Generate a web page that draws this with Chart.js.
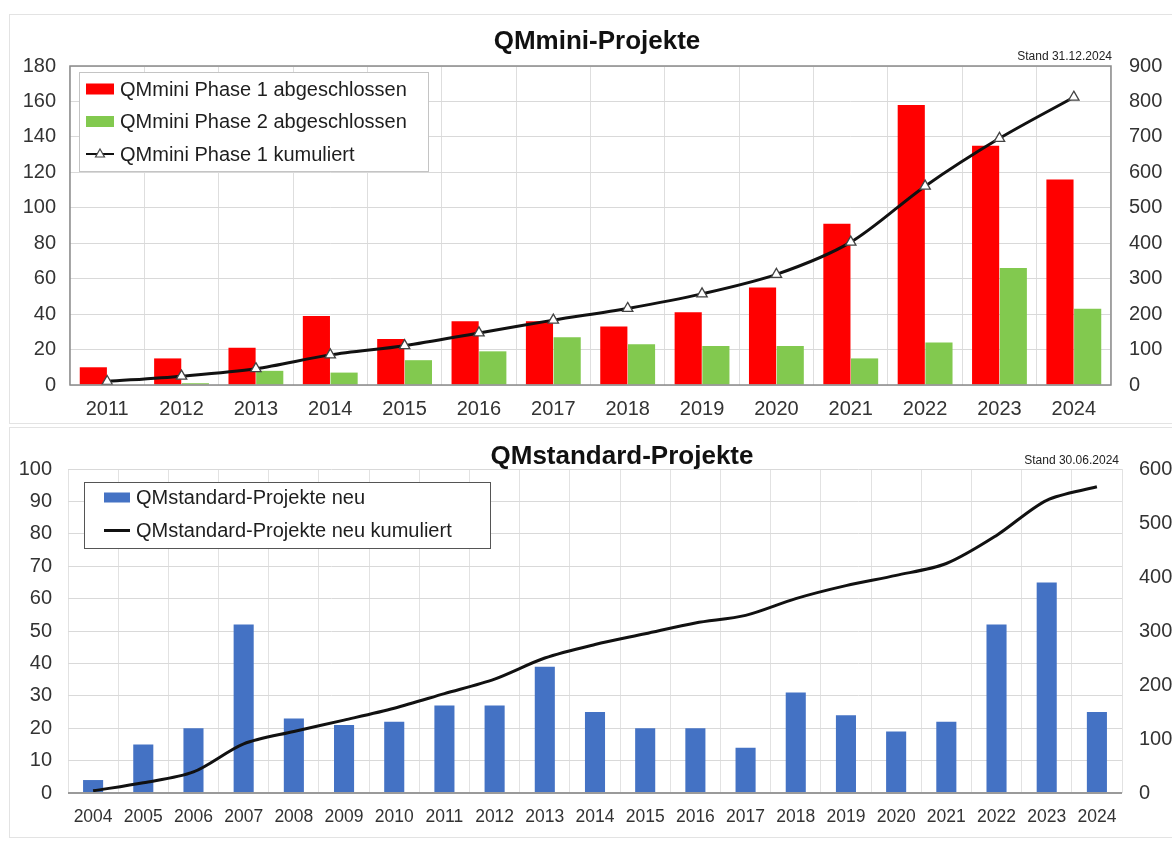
<!DOCTYPE html>
<html><head><meta charset="utf-8">
<script src="https://cdn.jsdelivr.net/npm/chart.js@4/dist/chart.umd.min.js"></script>
<style>
html,body{margin:0;padding:0;background:#fff;width:1172px;height:841px;overflow:hidden;position:relative;}
.panel{position:absolute;border:1px solid #e3e3e3;box-sizing:border-box;}
#wrapTop{position:absolute;left:0;top:0;width:1172px;height:425px;}
#wrapBottom{position:absolute;left:0;top:425px;width:1200px;height:416px;}
canvas{display:block;}
</style></head><body>
<div class="panel" style="left:9px;top:14px;width:1175px;height:410px"></div>
<div class="panel" style="left:9px;top:427px;width:1175px;height:411px"></div>
<div id="wrapTop"><canvas id="cTop" width="1172" height="425"></canvas></div>
<div id="wrapBottom"><canvas id="cBottom" width="1200" height="416"></canvas></div>
<script>
// ---------- data ----------
const miniYears = ['2011','2012','2013','2014','2015','2016','2017','2018','2019','2020','2021','2022','2023','2024'];
const miniPhase1 = [10,15,21,39,26,36,36,33,41,55,91,158,135,116];
const miniPhase2 = [0,1,8,7,14,19,27,23,22,22,15,24,66,43];
const miniPhase1Cumulative = [10,25,46,85,111,147,183,216,257,312,403,561,696,812];

const stdYears = ['2004','2005','2006','2007','2008','2009','2010','2011','2012','2013','2014','2015','2016','2017','2018','2019','2020','2021','2022','2023','2024'];
const stdNew = [4,15,20,52,23,21,22,27,27,39,25,20,20,14,31,24,19,22,52,65,25];
const stdNewCumulative = [4,19,39,91,114,135,157,184,211,250,275,295,315,329,360,384,403,425,477,542,567];

const miniLeftTicks = {min:0, max:180, step:20};
const miniRightTicks = {min:0, max:900, step:100};
const stdLeftTicks = {min:0, max:100, step:10};
const stdRightTicks = {min:0, max:600, step:100};

// ---------- rendering ----------
const FONT = "'Liberation Sans', Arial, Helvetica, sans-serif";
Chart.defaults.font.family = FONT;
Chart.defaults.color = '#333';

const decor = {
  id: 'decor',
  afterDraw(chart, args, o) {
    const ctx = chart.ctx, a = chart.chartArea;
    ctx.save();
    if (o.frame) {
      ctx.strokeStyle = '#8a8a8a'; ctx.lineWidth = 1.5;
      ctx.strokeRect(a.left, a.top, a.right - a.left, a.bottom - a.top);
    } else {
      ctx.strokeStyle = '#9a9a9a'; ctx.lineWidth = 2;
      ctx.beginPath(); ctx.moveTo(a.left, a.bottom); ctx.lineTo(a.right, a.bottom); ctx.stroke();
    }
    // title
    ctx.fillStyle = '#111';
    ctx.font = 'bold ' + o.titleSize + 'px ' + FONT;
    ctx.textAlign = 'center'; ctx.textBaseline = 'middle';
    ctx.fillText(o.title, o.titleX, o.titleY);
    ctx.font = '12px ' + FONT;
    ctx.fillStyle = '#222';
    ctx.textAlign = 'right';
    ctx.fillText(o.stand, a.right + o.standDx, o.standY);
    // legend box
    const L = o.legend;
    const x0 = a.left + L.dx, y0 = a.top + L.dy;
    ctx.fillStyle = '#fff';
    ctx.fillRect(x0, y0, L.w, L.h);
    ctx.strokeStyle = L.border; ctx.lineWidth = 1;
    ctx.strokeRect(x0 + 0.5, y0 + 0.5, L.w, L.h);
    ctx.font = L.fontSize + 'px ' + FONT;
    ctx.textAlign = 'left'; ctx.textBaseline = 'middle';
    chart.data.datasets.forEach((ds, i) => {
      const cy = y0 + L.firstRow + i * L.rowGap;
      const sx = x0 + L.swatchX;
      if (ds.type === 'line') {
        ctx.strokeStyle = ds.borderColor; ctx.lineWidth = L.lineW;
        ctx.beginPath(); ctx.moveTo(sx, cy); ctx.lineTo(sx + L.swatchW, cy); ctx.stroke();
        if (ds.pointStyle === 'triangle') {
          const cx = sx + L.swatchW / 2, r = 5;
          ctx.fillStyle = '#fff'; ctx.strokeStyle = '#444'; ctx.lineWidth = 1.2;
          ctx.beginPath();
          ctx.moveTo(cx, cy - r); ctx.lineTo(cx + r * 0.9, cy + r * 0.6); ctx.lineTo(cx - r * 0.9, cy + r * 0.6); ctx.closePath();
          ctx.fill(); ctx.stroke();
        }
      } else {
        ctx.fillStyle = ds.backgroundColor;
        ctx.fillRect(sx, cy - L.swatchH / 2, L.swatchW, L.swatchH);
      }
      ctx.fillStyle = '#1e1e1e';
      ctx.fillText(ds.label, sx + L.swatchW + L.textGap, cy + 1);
    });
    ctx.restore();
  }
};

function axisY(t, pos, size, pad, width, gridOn) {
  return {
    position: pos, min: t.min, max: t.max,
    ticks: {stepSize: t.step, font: {size: size}, color: '#333', padding: pad},
    grid: {display: gridOn, color: '#d9d9d9', drawTicks: false},
    border: {display: false},
    afterFit(s) { s.width = width; }
  };
}

new Chart(document.getElementById('cTop'), {
  data: {
    labels: miniYears,
    datasets: [
      {type: 'bar', label: 'QMmini Phase 1 abgeschlossen', data: miniPhase1, backgroundColor: '#ff0000',
       yAxisID: 'y', order: 2, categoryPercentage: 0.745, barPercentage: 0.98},
      {type: 'bar', label: 'QMmini Phase 2 abgeschlossen', data: miniPhase2, backgroundColor: '#82c94f',
       yAxisID: 'y', order: 2, categoryPercentage: 0.745, barPercentage: 0.98},
      {type: 'line', label: 'QMmini Phase 1 kumuliert', data: miniPhase1Cumulative, yAxisID: 'y2', order: 0,
       borderColor: '#111', borderWidth: 3, tension: 0.3, pointStyle: 'triangle', pointRadius: 6,
       pointBackgroundColor: '#fff', pointBorderColor: '#444', pointBorderWidth: 1.3}
    ]
  },
  options: {
    responsive: false, animation: false, devicePixelRatio: 1,
    layout: {padding: {top: 66, left: 0, right: 0, bottom: 0}},
    plugins: {
      legend: {display: false}, tooltip: {enabled: false},
      decor: {frame: true, title: 'QMmini-Projekte', titleSize: 26, titleX: 597, titleY: 42,
              stand: 'Stand 31.12.2024', standDx: 1, standY: 57,
              legend: {dx: 9, dy: 6, w: 349, h: 99, border: '#c4c4c4', fontSize: 20, firstRow: 17, rowGap: 32.5,
                       swatchX: 7, swatchW: 28, swatchH: 11, textGap: 6, lineW: 2}}
    },
    scales: {
      x: {offset: true, grid: {offset: true, color: '#dedede', drawTicks: false}, border: {display: false},
          ticks: {font: {size: 20}, color: '#333', padding: 12, maxRotation: 0, autoSkip: false},
          afterFit(s) { s.height = 40; }},
      y: axisY(miniLeftTicks, 'left', 20, 14, 70, true),
      y2: axisY(miniRightTicks, 'right', 20, 18, 61, false)
    }
  },
  plugins: [decor]
});

new Chart(document.getElementById('cBottom'), {
  data: {
    labels: stdYears,
    datasets: [
      {type: 'bar', label: 'QMstandard-Projekte neu', data: stdNew, backgroundColor: '#4472c4',
       yAxisID: 'y', order: 2, categoryPercentage: 0.8, barPercentage: 0.5},
      {type: 'line', label: 'QMstandard-Projekte neu kumuliert', data: stdNewCumulative, yAxisID: 'y2', order: 0,
       borderColor: '#111', borderWidth: 3, tension: 0.3, pointRadius: 0}
    ]
  },
  options: {
    responsive: false, animation: false, devicePixelRatio: 1,
    layout: {padding: {top: 44, left: 0, right: 0, bottom: 0}},
    plugins: {
      legend: {display: false}, tooltip: {enabled: false},
      decor: {frame: false, title: 'QMstandard-Projekte', titleSize: 26, titleX: 622, titleY: 32,
              stand: 'Stand 30.06.2024', standDx: -3, standY: 36,
              legend: {dx: 16, dy: 13, w: 406, h: 66, border: '#555', fontSize: 20, firstRow: 15.5, rowGap: 33,
                       swatchX: 20, swatchW: 26, swatchH: 10, textGap: 6, lineW: 3}}
    },
    scales: {
      x: {offset: true, grid: {offset: true, color: '#e2e2e2', drawTicks: false}, border: {display: false},
          ticks: {font: {size: 17.5}, color: '#333', padding: 14, maxRotation: 0, autoSkip: false},
          afterFit(s) { s.height = 48; }},
      y: axisY(stdLeftTicks, 'left', 20, 16, 68, true),
      y2: axisY(stdRightTicks, 'right', 20, 17, 78, false)
    }
  },
  plugins: [decor]
});
</script>
</body></html>
